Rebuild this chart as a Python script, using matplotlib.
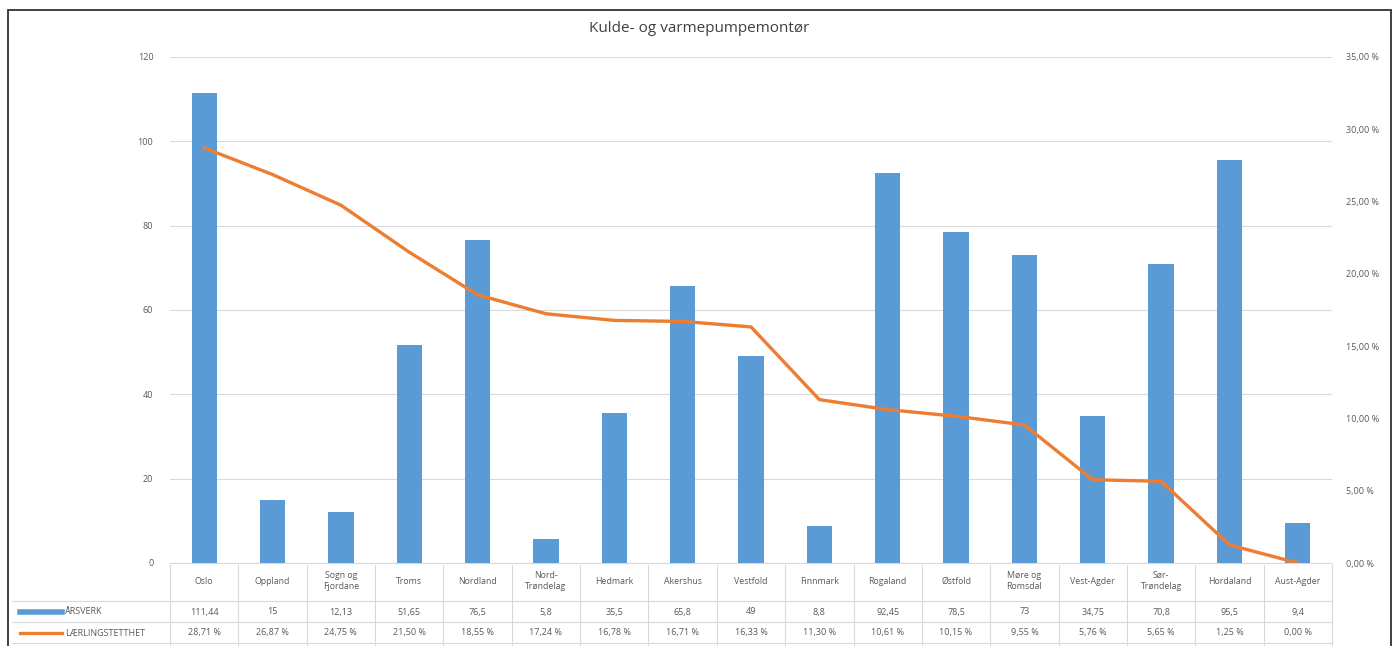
import matplotlib
matplotlib.use("Agg")
import matplotlib.pyplot as plt
from matplotlib.patches import Rectangle
from matplotlib.lines import Line2D
from matplotlib.ticker import FixedLocator

plt.rcParams['font.family'] = ['Open Sans', 'DejaVu Sans']

categories = ["Oslo", "Oppland", "Sogn og\nFjordane", "Troms", "Nordland", "Nord-\nTrøndelag",
              "Hedmark", "Akershus", "Vestfold", "Finnmark", "Rogaland", "Østfold",
              "Møre og\nRomsdal", "Vest-Agder", "Sør-\nTrøndelag", "Hordaland", "Aust-Agder"]
aarsverk = [111.44, 15, 12.13, 51.65, 76.5, 5.8, 35.5, 65.8, 49, 8.8, 92.45, 78.5, 73, 34.75, 70.8, 95.5, 9.4]
aarsverk_labels = ["111,44", "15", "12,13", "51,65", "76,5", "5,8", "35,5", "65,8", "49", "8,8",
                   "92,45", "78,5", "73", "34,75", "70,8", "95,5", "9,4"]
laerling = [28.71, 26.87, 24.75, 21.50, 18.55, 17.24, 16.78, 16.71, 16.33, 11.30, 10.61, 10.15,
            9.55, 5.76, 5.65, 1.25, 0.00]
left_ticks = [0, 20, 40, 60, 80, 100, 120]
right_ticks = [0, 5, 10, 15, 20, 25, 30, 35]
title = "Kulde- og varmepumpemontør"
series_names = ["ÅRSVERK", "LÆRLINGSTETTHET"]

W, H = 1399, 646
fig = plt.figure(figsize=(W / 100, H / 100), dpi=100)
fig.patch.set_facecolor("white")

L, R, T, B = 170, 1332, 57, 563
ax = fig.add_axes([L / W, 1 - B / H, (R - L) / W, (B - T) / H])
ax2 = ax.twinx()

blue = "#5B9BD5"
orange = "#ED7D31"
grey_txt = "#595959"
grid_c = "#D9D9D9"

x = list(range(len(categories)))
ax.bar(x, aarsverk, width=0.37, color=blue, zorder=3)
ax.set_xlim(-0.5, len(categories) - 0.5)
ax.set_ylim(0, 120)
ax.yaxis.set_major_locator(FixedLocator(left_ticks))
ax.set_yticklabels([str(t) for t in left_ticks])
ax.grid(axis="y", color=grid_c, lw=0.8, zorder=0)
ax.set_xticks([])
for s in ["top", "right", "left"]:
    ax.spines[s].set_visible(False)
ax.spines["bottom"].set_color(grid_c)
ax.tick_params(axis="y", length=0, labelsize=6.5, labelcolor=grey_txt, pad=12)

ax2.plot(x, laerling, color=orange, lw=2.4, zorder=4)
ax2.set_ylim(0, 35)
ax2.yaxis.set_major_locator(FixedLocator(right_ticks))
ax2.set_yticklabels([f"{t:.2f}".replace(".", ",") + " %" for t in right_ticks])
for s in ["top", "right", "left", "bottom"]:
    ax2.spines[s].set_visible(False)
ax2.tick_params(axis="y", length=0, labelsize=6.5, labelcolor=grey_txt, pad=10)

ax.set_zorder(ax2.get_zorder() - 1)
ax.patch.set_visible(False)

fig.text(0.5, 1 - 28 / H, title, ha="center", va="center", fontsize=11, color="#404040")

# data table
trans = ax.get_xaxis_transform()
def yfrac(py):
    return (B - py) / (B - T)

for i, c in enumerate(categories):
    ax.text(i, yfrac(581), c, transform=trans, ha="center", va="center", fontsize=6.3,
            color=grey_txt, linespacing=1.3, clip_on=False)
    ax.text(i, yfrac(612), aarsverk_labels[i], transform=trans, ha="center", va="center",
            fontsize=6.5, color=grey_txt, clip_on=False)
    ax.text(i, yfrac(633), f"{laerling[i]:.2f}".replace(".", ",") + " %", transform=trans,
            ha="center", va="center", fontsize=6.5, color=grey_txt, clip_on=False)

for i in range(len(categories) + 1):
    ax.plot([i - 0.5, i - 0.5], [yfrac(565), yfrac(646)], transform=trans, color=grid_c,
            lw=0.8, clip_on=False)
for py in [601, 622, 643]:
    fig.add_artist(Line2D([12 / W, R / W], [1 - py / H, 1 - py / H], color=grid_c, lw=0.8))

# legend keys
fig.add_artist(Line2D([20 / W, 62 / W], [1 - 612 / H, 1 - 612 / H], color=blue, lw=4))
fig.add_artist(Line2D([20 / W, 62 / W], [1 - 633 / H, 1 - 633 / H], color=orange, lw=2.4))
fig.text(65 / W, 1 - 612 / H, series_names[0], ha="left", va="center", fontsize=6.5, color=grey_txt)
fig.text(65 / W, 1 - 633 / H, series_names[1], ha="left", va="center", fontsize=6.5, color=grey_txt)

# outer border
fig.add_artist(Rectangle((8 / W, -0.05), (1391 - 8) / W, 1 - 10 / H + 0.05,
                         fill=False, edgecolor="#303030", lw=1.3, transform=fig.transFigure))

fig.savefig("out.png", dpi=100)
